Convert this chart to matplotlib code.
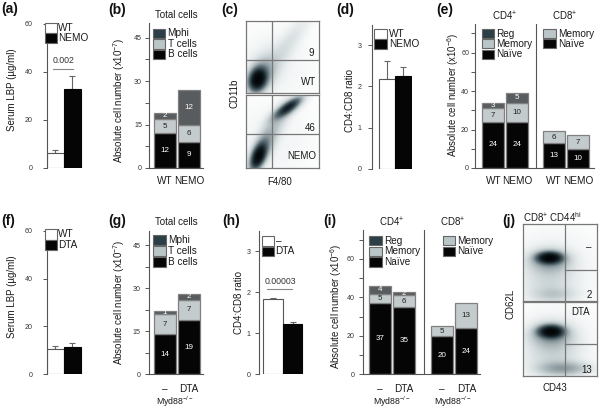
import numpy as np
import matplotlib
matplotlib.use('Agg')
import matplotlib.pyplot as plt
from matplotlib.patches import Rectangle
from matplotlib.colors import LinearSegmentedColormap
from matplotlib.ticker import MultipleLocator

plt.rcParams['font.family'] = ['Liberation Sans', 'DejaVu Sans']
plt.rcParams['mathtext.fontset'] = 'custom'
plt.rcParams['mathtext.rm'] = 'Liberation Sans'
plt.rcParams['mathtext.it'] = 'Liberation Sans:italic'
plt.rcParams['mathtext.bf'] = 'Liberation Sans:bold'
plt.rcParams['mathtext.default'] = 'regular'

# ---------------- data ----------------
# (a) serum LBP, NEMO model
a_groups = ['WT', 'NEMO']
a_lbp = [6.1, 32.8]
a_err = [1.4, 5.5]
a_p = '0.002'
# (b) total cells (x10^-7)
b_groups = ['WT', 'NEMO']
b_bcells = [12, 9]
b_tcells = [5, 6]
b_mphi = [2, 12]
# (c) flow CD11b / F4/80
c_pct = ['9', '46']
c_groups = ['WT', 'NEMO']
# (d) CD4:CD8 ratio
d_groups = ['WT', 'NEMO']
d_ratio = [2.19, 2.25]
d_err = [0.43, 0.23]
# (e) T-cell subsets (x10^-6)
e_groups = ['WT', 'NEMO', 'WT', 'NEMO']
e_cd4_naive = [24, 24]
e_cd4_memory = [7, 10]
e_cd4_reg = [3, 5]
e_cd8_naive = [13, 10]
e_cd8_memory = [6, 7]
# (f) serum LBP, DTA model
f_groups = ['WT', 'DTA']
f_lbp = [10.6, 11.6]
f_err = [1.2, 1.6]
# (g) total cells
g_groups = ['–', 'DTA']
g_bcells = [14, 19]
g_tcells = [7, 7]
g_mphi = [1, 2]
# (h) CD4:CD8 ratio
h_groups = ['–', 'DTA']
h_ratio = [1.83, 1.22]
h_err = [0.03, 0.05]
h_p = '0.00003'
# (i) T-cell subsets
i_groups = ['–', 'DTA', '–', 'DTA']
i_cd4_naive = [37, 35]
i_cd4_memory = [5, 6]
i_cd4_reg = [4, 2]
i_cd8_naive = [20, 24]
i_cd8_memory = [5, 13]
# (j) flow CD62L / CD43
j_pct = ['2', '13']
j_groups = ['–', 'DTA']

# flow density components: (cx, cy, sx, sy, rho, weight)
c_wt_comps = [(0.16, 0.19, 0.06, 0.08, 0.2, 2.6),
              (0.19, 0.23, 0.10, 0.13, 0.3, 0.35),
              (0.24, 0.30, 0.16, 0.20, 0.4, 0.10),
              (0.58, 0.70, 0.22, 0.30, 0.88, 0.07),
              (0.35, 0.35, 0.45, 0.45, 0.0, 0.03)]
c_nemo_comps = [(0.17, 0.16, 0.055, 0.09, 0.5, 2.2),
                (0.21, 0.24, 0.10, 0.16, 0.6, 0.35),
                (0.57, 0.82, 0.09, 0.07, 0.8, 1.2),
                (0.55, 0.79, 0.15, 0.11, 0.8, 0.25),
                (0.38, 0.55, 0.17, 0.27, 0.85, 0.12),
                (0.35, 0.35, 0.45, 0.45, 0.0, 0.03)]
j_top_comps = [(0.36, 0.56, 0.09, 0.04, 0.0, 2.6),
               (0.36, 0.53, 0.17, 0.09, 0.0, 0.3),
               (0.35, 0.30, 0.24, 0.22, 0.0, 0.10),
               (0.42, 0.08, 0.20, 0.06, 0.0, 0.10),
               (0.45, 0.45, 0.5, 0.5, 0.0, 0.03)]
j_bot_comps = [(0.38, 0.60, 0.09, 0.045, 0.0, 2.6),
               (0.38, 0.56, 0.17, 0.10, 0.0, 0.3),
               (0.40, 0.33, 0.24, 0.22, 0.0, 0.11),
               (0.55, 0.10, 0.22, 0.06, 0.0, 0.25),
               (0.45, 0.45, 0.5, 0.5, 0.0, 0.03)]

# ---------------- style ----------------
W, H = 600, 408
fig = plt.figure(figsize=(W / 100, H / 100), dpi=100)
SPINE = '#555555'
TXT = '#1a1a1a'
C_DARK = '#585c5e'      # Mphi / Reg segment
C_LIGHT = '#c4cbcc'     # T cells / Memory segment
C_BLACK = '#050505'     # B cells / Naive
L_DARK = '#2c3e46'
L_LIGHT = '#b9c5c7'
EDGE = '#808080'

flow_cmap = LinearSegmentedColormap.from_list(
    'flow', [(0, '#ffffff'), (0.12, '#d3dbdd'), (0.45, '#5d6f76'),
             (0.8, '#152329'), (1, '#000000')])


def px_axes(x0, x1, ytop, ybot):
    return fig.add_axes([x0 / W, 1 - ybot / H, (x1 - x0) / W, (ybot - ytop) / H])


def style_bar_axes(ax, ymax, xlim, major, minor, pad, bottom=False):
    ax.set_ylim(0, ymax)
    ax.set_xlim(*xlim)
    for s in ['top', 'right']:
        ax.spines[s].set_visible(False)
    ax.spines['bottom'].set_visible(bottom)
    for s in ['left', 'bottom']:
        ax.spines[s].set_color(SPINE)
        ax.spines[s].set_linewidth(0.8)
    ax.yaxis.set_major_locator(MultipleLocator(major))
    if minor:
        ax.yaxis.set_minor_locator(MultipleLocator(minor))
    ax.tick_params(axis='y', which='both', direction='out', length=3,
                   width=0.7, color=SPINE, labelsize=5.1, labelcolor='#333333',
                   pad=pad)
    ax.patch.set_alpha(0)


def simple_bars(ax, vals, errs):
    xs = [0.5, 1.5]
    ax.bar(xs, vals, width=1.0, color=['white', C_BLACK],
           edgecolor=['#555555', C_BLACK], linewidth=0.8, zorder=2)
    ax.errorbar(xs, vals, yerr=[[0, 0], errs], fmt='none', ecolor='#666666',
                elinewidth=0.8, capsize=2.0, capthick=0.8, zorder=1)
    ax.set_xticks([])


def stacked(ax, xs, layers, colors, tcolors, width=0.92):
    bottom = np.zeros(len(xs))
    for vals, col, tc in zip(layers, colors, tcolors):
        vals = np.asarray(vals, float)
        bars = ax.bar(xs, vals, width=width, bottom=bottom, color=col,
                      edgecolor=EDGE, linewidth=0.9, zorder=2)
        ax.bar_label(bars, labels=[f'{v:g}' for v in vals], label_type='center',
                     fontsize=5.8, color=tc, zorder=3)
        bottom += vals


def density(comps, n=220):
    g = np.linspace(0, 1, n)
    X, Y = np.meshgrid(g, g)
    D = np.zeros_like(X)
    for cx, cy, sx, sy, rho, w in comps:
        dx = (X - cx) / sx
        dy = (Y - cy) / sy
        q = (dx * dx - 2 * rho * dx * dy + dy * dy) / (1 - rho ** 2)
        D += w * np.exp(-0.5 * q)
    return D


def flow(ax, comps, vline, hline, hfull):
    img = 1 - np.exp(-1.2 * density(comps))
    ax.imshow(img, origin='lower', extent=[0, 1, 0, 1], cmap=flow_cmap,
              vmin=0, vmax=1, aspect='auto', interpolation='bilinear')
    ax.set_xlim(0, 1)
    ax.set_ylim(0, 1)
    ax.set_xticks([])
    ax.set_yticks([])
    for s in ax.spines.values():
        s.set_color('#777777')
        s.set_linewidth(0.9)
    ax.axvline(vline, color='#777777', lw=0.9)
    if hfull:
        ax.axhline(hline, color='#777777', lw=0.9)
    else:
        ax.plot([vline, 1], [hline, hline], color='#777777', lw=0.9)


# ---------------- (a) ----------------
ax = px_axes(47, 84, 24, 168)
style_bar_axes(ax, 60, (0, 2.2), 20, None, 7)
simple_bars(ax, a_lbp, a_err)
ax.plot([0.38, 1.55], [41.2, 41.2], color='#888888', lw=0.8)
ax.text(0.97, 43.0, a_p, ha='center', va='bottom', fontsize=6.3, color='#333333')

# ---------------- (b) ----------------
ax = px_axes(149, 203, 168 - 50 * 130.3 / 45, 168)
style_bar_axes(ax, 50, (-0.667, 1.583), 15, 7.5, 2, bottom=True)
stacked(ax, [0, 1], [b_bcells, b_tcells, b_mphi], [C_BLACK, C_LIGHT, C_DARK],
        ['white', '#222222', 'white'])
ax.set_xticks([0, 1], b_groups)
ax.tick_params(axis='x', length=0, pad=6, labelsize=7.2, labelcolor=TXT)

# ---------------- (c) ----------------
ax = px_axes(246, 319.3, 21, 92.7)
flow(ax, c_wt_comps, 0.36, 0.46, True)
ax = px_axes(246, 319.3, 95, 168.3)
flow(ax, c_nemo_comps, 0.36, 0.47, True)

# ---------------- (d) ----------------
ax = px_axes(372, 412, 168.7 - 3.5 * 41.13, 168.7)
style_bar_axes(ax, 3.5, (-0.44, 2.06), 1, None, 4.5)
simple_bars(ax, d_ratio, d_err)

# ---------------- (e) ----------------
ax = px_axes(474.7, 474.7 + 4.975 * 24, 168 - 75 * 1.922, 168)
style_bar_axes(ax, 75, (-0.775, 4.2), 20, 10, 1.0, bottom=True)
stacked(ax, [0, 1], [e_cd4_naive, e_cd4_memory, e_cd4_reg],
        [C_BLACK, C_LIGHT, C_DARK], ['white', '#222222', 'white'])
stacked(ax, [2.53, 3.53], [e_cd8_naive, e_cd8_memory],
        [C_BLACK, C_LIGHT], ['white', '#222222'])
ax.axvline(1.78, color=SPINE, lw=0.8)
ax.set_xticks([0, 1, 2.53, 3.53], e_groups)
ax.tick_params(axis='x', length=0, pad=6, labelsize=7.2, labelcolor=TXT)

# ---------------- (f) ----------------
ax = px_axes(47, 84, 230.7, 374.3)
style_bar_axes(ax, 60, (0, 2.2), 20, None, 7)
simple_bars(ax, f_lbp, f_err)

# ---------------- (g) ----------------
ax = px_axes(149, 203, 374.3 - 50 * 2.873, 374.3)
style_bar_axes(ax, 50, (-0.667, 1.583), 15, 7.5, 3, bottom=True)
stacked(ax, [0, 1], [g_bcells, g_tcells, g_mphi], [C_BLACK, C_LIGHT, C_DARK],
        ['white', '#222222', 'white'])
ax.set_xticks([0, 1], g_groups)
ax.tick_params(axis='x', length=0, pad=7, labelsize=7.2, labelcolor=TXT)

# ---------------- (h) ----------------
ax = px_axes(259, 259 + 2.31 * 19.5, 374.3 - 3.5 * 41.0, 374.3)
style_bar_axes(ax, 3.5, (-0.22, 2.09), 1, None, 3)
simple_bars(ax, h_ratio, h_err)
ax.plot([0.18, 1.47], [2.07, 2.07], color='#888888', lw=0.8)
ax.text(0.86, 2.16, h_p, ha='center', va='bottom', fontsize=6.3, color='#333333')

# ---------------- (i) ----------------
ax = px_axes(363.3, 363.3 + 4.87 * 24, 374.3 - 75 * 1.922, 374.3)
style_bar_axes(ax, 75, (-0.70, 4.17), 20, 10, 3, bottom=True)
stacked(ax, [0, 1], [i_cd4_naive, i_cd4_memory, i_cd4_reg],
        [C_BLACK, C_LIGHT, C_DARK], ['white', '#222222', 'white'])
stacked(ax, [2.59, 3.59], [i_cd8_naive, i_cd8_memory],
        [C_BLACK, C_LIGHT], ['white', '#222222'])
ax.axvline(1.83, color=SPINE, lw=0.8)
ax.set_xticks([0, 1, 2.59, 3.59], i_groups)
ax.tick_params(axis='x', length=0, pad=7, labelsize=7.2, labelcolor=TXT)

# ---------------- (j) ----------------
ax = px_axes(523.3, 596.7, 224, 300.7)
flow(ax, j_top_comps, 0.57, 0.40, False)
ax = px_axes(523.3, 596.7, 302.3, 376)
flow(ax, j_bot_comps, 0.57, 0.43, False)

# ---------------- overlay: labels, legends ----------------
ov = fig.add_axes([0, 0, 1, 1])
ov.set_xlim(0, W)
ov.set_ylim(H, 0)
ov.axis('off')
ov.patch.set_alpha(0)


def t(x, y, s, **kw):
    kw.setdefault('fontsize', 7)
    kw.setdefault('color', TXT)
    kw.setdefault('ha', 'center')
    kw.setdefault('va', 'center')
    ov.text(x, y, s, **kw)


def legend(x, y0, step, w, h, items, tx=None, fs=7.2):
    tx = x + w + 1.5 if tx is None else tx
    for k, (lab, col) in enumerate(items):
        y = y0 + k * step
        ov.add_patch(Rectangle((x, y), w, h, facecolor=col, edgecolor='#666666',
                               linewidth=0.8))
        t(tx, y + h / 2, lab, ha='left', fontsize=fs)


# panel letters
for lab, x, y in [('(a)', 1, 8.5), ('(b)', 108, 10), ('(c)', 221, 10),
                  ('(d)', 336, 10), ('(e)', 436, 10),
                  ('(f)', 1, 221), ('(g)', 108, 221), ('(h)', 222, 221),
                  ('(i)', 323, 221), ('(j)', 502, 221)]:
    t(x, y, lab, ha='left', fontsize=10, fontweight='bold', color='#111111')

# y labels
t(11.7, 90, 'Serum LBP (µg/ml)', rotation=90)
t(119.5, 100, r'Absolute cell number (x10$^{-7}$)', rotation=90)
t(235, 93, 'CD11b', rotation=90)
t(350, 101, 'CD4:CD8 ratio', rotation=90)
t(453.5, 95, r'Absolute cell number (x10$^{-6}$)', rotation=90, fontsize=6.9)
t(11.7, 297, 'Serum LBP (µg/ml)', rotation=90)
t(119.5, 302.5, r'Absolute cell number (x10$^{-7}$)', rotation=90)
t(239, 303, 'CD4:CD8 ratio', rotation=90)
t(336, 306, r'Absolute cell number (x10$^{-6}$)', rotation=90)
t(510, 304, 'CD62L', rotation=90)

# headers
t(176.5, 15, 'Total cells')
t(176.5, 222.3, 'Total cells')
t(505, 16, r'CD4$^{+}$')
t(565, 16, r'CD8$^{+}$')
t(392, 222, r'CD4$^{+}$')
t(452.5, 222, r'CD8$^{+}$')
t(552, 217.5, r'CD8$^{+}$ CD44$^{hi}$')

# axis captions
t(280, 181.7, 'F4/80')
t(555, 388.3, 'CD43')
for x in [175, 392, 453]:
    t(x, 401.7, r'Myd88$^{-/-}$', fontsize=6.3)

# flow annotations
t(311.7, 52.7, c_pct[0])
t(316, 81.7, c_groups[0], ha='right')
t(316, 127.7, c_pct[1], ha='right')
t(316, 155.7, c_groups[1], ha='right')
t(588.3, 246.7, j_groups[0])
t(591.7, 295, j_pct[0], ha='right')
t(581, 311.7, j_groups[1])
t(591.7, 370, j_pct[1], ha='right')

# legends
legend(45, 23.3, 10, 11.7, 10, [(a_groups[0], 'white'), (a_groups[1], C_BLACK)], tx=57.8)
legend(45, 229.3, 10.2, 11.7, 10.2, [(f_groups[0], 'white'), (f_groups[1], C_BLACK)], tx=57.8)
legend(374, 29.3, 9.9, 13, 9.9, [(d_groups[0], 'white'), (d_groups[1], C_BLACK)], tx=388.8)
legend(262, 236.3, 10.4, 11.5, 9.4, [(h_groups[0], 'white'), (h_groups[1], C_BLACK)], tx=275.5)
legend(153.3, 28.7, 10.4, 11.7, 9.6,
       [('Mphi', L_DARK), ('T cells', L_LIGHT), ('B cells', C_BLACK)], tx=167.5)
legend(153.3, 235.2, 10.8, 12.2, 9.8,
       [('Mphi', L_DARK), ('T cells', L_LIGHT), ('B cells', C_BLACK)], tx=168)
legend(482.3, 28.9, 10.3, 12, 9.3,
       [('Reg', L_DARK), ('Memory', L_LIGHT), ('Naïve', C_BLACK)], tx=496.5)
legend(543.3, 28.9, 10.3, 12.7, 9.3,
       [('Memory', L_LIGHT), ('Naïve', C_BLACK)], tx=558)
legend(369.3, 236, 10.6, 12.4, 9.3,
       [('Reg', L_DARK), ('Memory', L_LIGHT), ('Naïve', C_BLACK)], tx=384)
legend(442.7, 236, 10.6, 12.6, 9.3,
       [('Memory', L_LIGHT), ('Naïve', C_BLACK)], tx=457.5)

fig.savefig('out.png', dpi=100)
